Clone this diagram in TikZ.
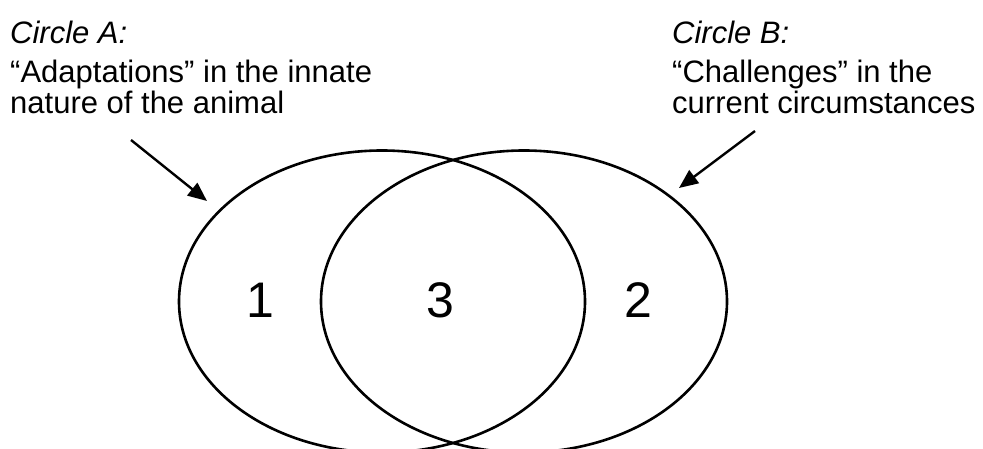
\documentclass[tikz,border=0pt]{standalone}
\usepackage{fontspec}
\setmainfont{Liberation Sans}
\usetikzlibrary{shapes.geometric,arrows.meta}

\begin{document}
\begin{tikzpicture}[x=1pt, y=-1pt,
  caption/.style={anchor=base west, inner sep=0pt, font=\fontsize{31}{34}\selectfont},
  region/.style={inner sep=0pt, font=\fontsize{50}{52}\selectfont},
  ring/.style={draw, ellipse, line width=2.6pt, inner sep=0pt, outer sep=0pt,
    minimum width=406pt, minimum height=302pt},
  pointer/.style={-{Triangle[length=19pt,width=16pt]}, line width=2.4pt}]
\useasboundingbox (0,0) rectangle (983,449);
\clip (0,0) rectangle (983,449);

% Circle A
\node[caption] (titleA) at (10,44) {\itshape Circle A:};
\node[caption] (textA1) at (10,83) {“Adaptations” in the innate};
\node[caption] (textA2) at (10,114) {nature of the animal};

% Circle B
\node[caption] (titleB) at (672,44) {\itshape Circle B:};
\node[caption] (textB1) at (672,83) {“Challenges” in the};
\node[caption] (textB2) at (672,114) {current circumstances};

% Venn
\node[ring] (circA) at (382,301.5) {};
\node[ring] (circB) at (524,301.5) {};

\node[region] (one) at (260,300) {1};
\node[region] (three) at (440,300) {3};
\node[region] (two) at (638,300) {2};

% Pointers
\coordinate (tailA) at (131,140);
\coordinate (tipA) at (207,201);
\coordinate (tailB) at (755,131);
\coordinate (tipB) at (679,188);
\draw[pointer] (tailA) -- (tipA);
\draw[pointer] (tailB) -- (tipB);
\end{tikzpicture}
\end{document}
